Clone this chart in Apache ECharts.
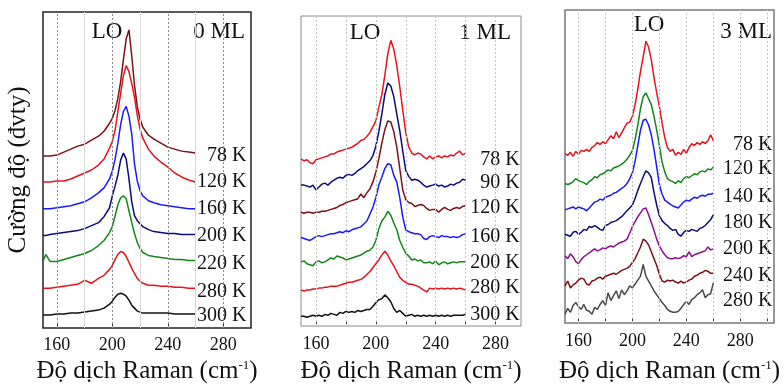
<!DOCTYPE html>
<html>
<head>
<meta charset="utf-8">
<script src="https://cdn.jsdelivr.net/npm/echarts@6/dist/echarts.min.js"></script>
<style>
  html, body { margin: 0; background: #fff; }
  #chart { width: 784px; height: 389px; }
</style>
</head>
<body>
<div id="chart"></div>
<script>
// Raman shift grids (cm-1)
const shiftP1 = [150,152,155,160,165,170,175,180,185,190,194,198,200,202,204,206,208,210,212,214,216,218,220,222,226,230,235,240,245,250,255,260];
const shiftP2 = [150,152,154,156,158,160,162,164,166,168,170,172,174,176,178,180,182,184,186,188,190,192,194,196,198,200,202,204,206,208,210,212,214,216,218,220,222,224,226,228,230,232,234,236,238,240,242,244,246,248,250,252,254,256,258,260];
const shiftP3 = shiftP2;

// 0 ML (stacked, offset included)
const p1_78K  = [173,173,173,174,177,180,183,185,189,193,198,206,211,219,231,248,270,291,300,274,244,223,210,202,194,190,186,182,180,178,177,176];
const p1_120K = [147,147,147,148,148,150,153,156,159,164,170,181,188,199,218,236,254,264,258,246,232,214,200,191,180,173,167,162,156,152,149,147];
const p1_160K = [120,120,120,121,122,123,125,127,131,136,141,150,158,170,186,205,218,223,213,195,165,148,138,133,128,126,124,123,122,121,120,120];
const p1_200K = [93,93,94,95,96,97,98,100,103,106,112,121,133,143,154,169,176,170,150,127,113,108,105,102,99,97,96,95,95,94,94,94];
const p1_220K = [67,74,67,67,69,71,73,75,78,83,88,96,102,113,124,131,133,130,118,106,95,86,80,76,73,72,71,70,69,69,68,68];
const p1_280K = [40,40,40,41,42,43,44,48,45,50,53,59,63,69,74,77,76,72,66,60,55,50,47,45,43,43,42,42,41,41,40,40];
const p1_300K = [13,13,13,14,14,15,15,16,17,18,20,24,27,31,34,35,34,32,28,23,20,17,16,15,15,15,15,15,14,14,14,14];

// 1 ML
const p2_78K  = [172,170,171,168,167,171,172,173,174,175,177,177,179,180,181,182,183,184,186,188,191,192,195,199,205,211,225,238,258,280,294,285,268,246,222,199,184,178,176,178,177,174,172,175,172,174,175,173,175,174,176,175,178,180,176,178];
const p2_90K  = [145,145,144,143,145,140,143,146,147,145,148,150,152,153,152,155,156,155,157,160,162,164,167,170,175,185,200,218,238,250,247,236,218,201,180,160,154,150,151,150,148,145,143,144,145,146,144,145,143,144,146,145,147,148,151,150];
const p2_120K = [117,116,117,117,116,117,117,118,118,119,120,121,122,124,125,127,128,129,130,131,136,132,137,141,148,158,172,188,202,211,210,200,184,162,140,130,127,126,123,124,125,124,121,119,120,120,117,120,122,120,119,121,122,121,123,124];
const p2_160K = [91,90,89,88,90,92,93,92,93,94,95,95,96,97,96,98,97,99,100,101,102,105,108,115,122,132,145,153,162,167,166,155,148,132,112,99,97,96,95,95,94,90,89,92,93,92,91,93,92,92,91,92,91,92,94,95];
const p2_200K = [66,67,64,63,62,66,67,65,66,68,70,69,72,71,70,68,69,70,71,72,73,75,77,78,81,88,100,108,112,118,114,106,99,88,81,75,72,68,69,67,68,65,65,66,64,67,63,65,66,64,65,66,65,66,66,66];
const p2_280K = [37,36,37,37,38,38,39,39,40,40,41,41,41,42,43,44,45,45,46,47,48,50,53,56,60,64,68,73,77,73,67,62,56,50,47,45,43,43,42,41,39,37,35,39,38,39,38,39,38,39,38,39,38,39,38,37];
const p2_300K = [10,10,9,10,11,10,11,10,12,11,13,12,11,14,13,15,14,15,14,16,15,16,17,17,20,24,27,28,32,29,25,18,14,16,13,10,11,12,10,11,10,11,10,11,10,11,10,11,10,11,10,11,11,11,11,12];

// 3 ML
const p3_78K  = [174,172,175,171,176,173,177,176,178,176,180,182,185,183,186,184,188,192,189,196,190,195,200,205,206,212,224,240,258,273,289,283,270,252,236,222,205,190,180,176,178,172,175,173,178,174,180,184,182,185,183,186,184,187,193,187];
const p3_120K = [143,142,143,145,148,146,145,144,142,145,147,150,149,152,153,155,157,156,159,160,161,163,165,168,172,177,188,203,220,232,236,230,224,212,198,182,165,155,148,146,145,143,146,144,148,150,149,151,153,152,155,156,155,158,157,160];
const p3_140K = [116,117,118,119,117,119,118,117,115,118,121,124,125,127,126,129,130,131,133,134,136,138,140,143,148,154,166,182,198,208,209,203,193,178,160,142,132,126,124,122,120,119,118,121,124,126,125,127,129,128,130,131,130,132,132,133];
const p3_180K = [91,90,89,93,94,91,93,96,95,99,98,100,98,96,95,100,101,103,104,105,107,109,112,115,118,121,128,136,143,150,156,154,149,134,121,110,105,102,100,97,95,96,91,89,93,95,94,96,95,94,97,98,100,103,106,111];
const p3_200K = [69,66,71,68,63,61,65,68,70,72,74,76,74,75,77,76,78,79,78,80,82,83,84,86,92,99,104,109,113,117,118,111,103,95,86,79,74,70,67,66,66,67,66,67,69,68,73,68,70,71,72,73,74,78,75,76];
const p3_240K = [38,43,36,39,41,44,46,45,40,39,43,44,46,47,45,48,49,50,51,50,52,54,55,56,58,62,66,72,78,86,84,80,73,66,59,50,43,42,44,43,44,42,41,43,41,42,44,45,48,49,51,52,54,53,51,51];
const p3_280K = [9,15,11,18,21,17,14,19,13,12,9,16,14,19,23,18,31,23,28,33,25,34,29,33,38,36,40,44,48,60,48,43,38,33,29,25,21,18,14,12,11,11,12,15,19,22,19,24,26,29,31,34,26,29,30,41];

const p1Temps = ['78 K','120 K','160 K','200 K','220 K','280 K','300 K'];
const p2Temps = ['78 K','90 K','120 K','160 K','200 K','280 K','300 K'];
const p3Temps = ['78 K','120 K','140 K','180 K','200 K','240 K','280 K'];
const sampleNames = ['0 ML','1 ML','3 ML'];

const tickLabels = [160, 200, 240, 280];
const tickMarks = [160, 180, 200, 220, 240, 260, 280, 300];

const RED = '#e8141c', MAROON = '#7a1216', BLUE = '#1a1aff', NAVY = '#0c0c78',
      GREEN = '#12861a', PURPLE = '#8a0f8a', GREY = '#4a4a4a', BLACK = '#111';

const FONT = 'Liberation Serif';

const panels = [
  { x: shiftP1, ys: [p1_78K,p1_120K,p1_160K,p1_200K,p1_220K,p1_280K,p1_300K], temps: p1Temps,
    colors: [MAROON,RED,BLUE,NAVY,GREEN,RED,BLACK], dy: [3,0,0,1,3,3,2],
    grid: {left: 43, top: 12, width: 208, height: 318}, xMax: 300,
    border: '#222', bw: 1.5, dx: 51, labelMargin: 8, nameGap: 31,
    lo: [107, 32], ml: [245, 32], mixedGrid: true },
  { x: shiftP2, ys: [p2_78K,p2_90K,p2_120K,p2_160K,p2_200K,p2_280K,p2_300K], temps: p2Temps,
    colors: [RED,NAVY,MAROON,BLUE,GREEN,RED,BLACK], dy: [7,3,2,3,1,-2,0],
    grid: {left: 301, top: 16, width: 220, height: 319}, xMax: 297,
    border: '#8a8a8a', bw: 1, dx: 54, labelMargin: 9, nameGap: 33,
    lo: [365, 33], ml: [511, 33], mixedGrid: false },
  { x: shiftP3, ys: [p3_78K,p3_120K,p3_140K,p3_180K,p3_200K,p3_240K,p3_280K], temps: p3Temps,
    colors: [RED,GREEN,BLUE,NAVY,PURPLE,MAROON,GREY], dy: [4,2,3,8,0,2,18],
    grid: {left: 565, top: 10, width: 209, height: 321}, xMax: 305,
    border: '#777', bw: 1.5, dx: 59, labelMargin: 9, nameGap: 36,
    lo: [649, 25], ml: [772, 32], mixedGrid: false }
];

const grids = [], xAxes = [], yAxes = [], series = [], graphics = [];

panels.forEach((p, i) => {
  grids.push({ ...p.grid, show: true, borderColor: p.border, borderWidth: p.bw, backgroundColor: 'transparent' });

  // ticks every 10 from min=150; only the 160/200/240/280 ones get a label
  xAxes.push({
    gridIndex: i, type: 'value', min: 150, max: p.xMax, interval: 10,
    axisLine: { show: false },
    splitLine: { show: false },
    axisTick: { show: true, inside: true, length: 4, customValues: tickMarks.filter(v => v < p.xMax),
                lineStyle: { color: '#333', width: 1 } },
    axisLabel: { showMinLabel: false, showMaxLabel: false,
                 formatter: v => tickLabels.includes(v) ? String(v) : '',
                 fontFamily: FONT, fontSize: 18, color: '#111', margin: p.labelMargin },
    name: 'Độ dịch Raman (cm{sup|-1})',
    nameLocation: 'middle', nameGap: p.nameGap,
    nameTextStyle: { fontFamily: FONT, fontSize: 25, color: '#111',
      rich: { sup: { fontFamily: FONT, fontSize: 13, verticalAlign: 'top', color: '#111' } } }
  });

  yAxes.push({
    gridIndex: i, type: 'value', min: 0, max: p.grid.height,
    axisLine: { show: false }, axisTick: { show: false }, axisLabel: { show: false }, splitLine: { show: false },
    name: i === 0 ? 'Cường độ (đvty)' : '',
    nameLocation: 'middle', nameGap: 12,
    nameTextStyle: { fontFamily: FONT, fontSize: 25, color: '#111' }
  });

  // vertical guide lines
  const guides = tickMarks.filter(v => v < p.xMax && v > 150).map(v => {
    const major = (v - 160) % 40 === 0;
    const style = p.mixedGrid && !major
      ? { type: 'solid', color: '#d6d6d6', width: 1 }
      : { type: [2, 2], color: p.mixedGrid ? '#8c8c8c' : '#c4c4c4', width: 1 };
    return { xAxis: v, lineStyle: style };
  });
  series.push({
    type: 'line', xAxisIndex: i, yAxisIndex: i, data: [], silent: true, z: 1,
    markLine: { symbol: ['none', 'none'], silent: true, animation: false, label: { show: false }, data: guides }
  });

  p.ys.forEach((vals, k) => {
    series.push({
      type: 'line', xAxisIndex: i, yAxisIndex: i, z: 3,
      data: p.x.map((v, j) => [v, vals[j]]),
      symbol: 'none', silent: true,
      lineStyle: { color: p.colors[k], width: 1.5 },
      itemStyle: { color: p.colors[k] },
      endLabel: { show: true, formatter: p.temps[k], align: 'right', verticalAlign: 'middle',
                  distance: 0, offset: [p.dx, p.dy[k]],
                  fontFamily: FONT, fontSize: 20, color: '#111' }
    });
  });

  graphics.push({ type: 'text', x: p.lo[0], y: p.lo[1],
    style: { text: 'LO', font: '23px "Liberation Serif"', fill: '#111', align: 'center', verticalAlign: 'middle' } });
  graphics.push({ type: 'text', x: p.ml[0], y: p.ml[1],
    style: { text: sampleNames[i], font: '23px "Liberation Serif"', fill: '#111', align: 'right', verticalAlign: 'middle' } });
});

const chart = echarts.init(document.getElementById('chart'), null, { renderer: 'canvas' });
chart.setOption({
  animation: false,
  backgroundColor: '#fff',
  textStyle: { fontFamily: FONT },
  grid: grids,
  xAxis: xAxes,
  yAxis: yAxes,
  series: series,
  graphic: graphics
});
</script>
</body>
</html>
